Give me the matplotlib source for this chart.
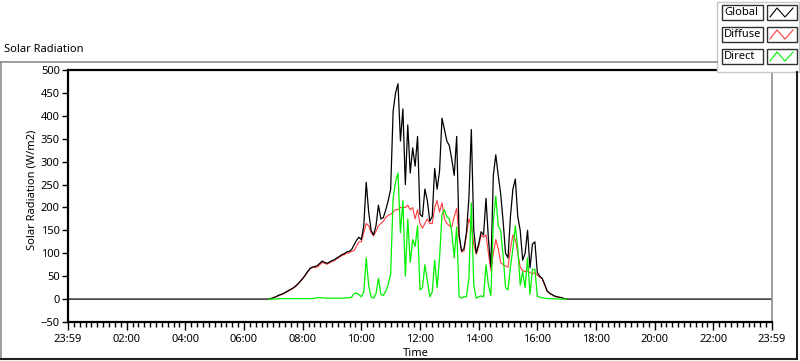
#!/usr/bin/env python3
"""
Solar radiation over one day: global, diffuse and direct.
"""
import numpy as np
import matplotlib.pyplot as plt
from matplotlib.lines import Line2D
from matplotlib.patches import Rectangle

plt.rcParams['font.family'] = ['Noto Sans', 'DejaVu Sans']

# readings every 5 minutes, starting at 06:50
start_hour = 6 + 50 / 60
step_min = 5

global_rad = [
    0, 1, 3, 5, 8, 10, 12, 15, 18, 21, 24, 28,            # 06:50 - 07:45
    33, 39, 45, 52, 60, 67, 70, 71, 73, 78, 83, 80,       # 07:50 - 08:45
    78, 81, 84, 86, 90, 93, 97, 99, 103, 104, 108, 118,   # 08:50 - 09:45
    128, 135, 130, 160, 255, 190, 150, 140, 160, 205, 175, 178,   # 09:50 - 10:45
    195, 215, 240, 410, 450, 470, 345, 415, 250, 380, 275, 330,   # 10:50 - 11:45
    290, 355, 185, 180, 240, 215, 170, 180, 285, 240, 280, 395,   # 11:50 - 12:45
    370, 345, 335, 305, 270, 355, 140, 105, 110, 145, 220, 370,   # 12:50 - 13:45
    150, 100, 120, 147, 140, 220, 130, 70, 270, 315, 270, 230,    # 13:50 - 14:45
    170, 100, 90, 180, 240, 262, 180, 150, 85, 100, 150, 68,      # 14:50 - 15:45
    120, 125, 58, 50, 45, 32, 18, 13, 10, 7, 5, 4,                # 15:50 - 16:45
    3, 1, 0,                                                      # 16:50 - 17:00
]
diffuse_rad = [
    0, 1, 3, 5, 7, 9, 11, 14, 17, 20, 23, 27,
    32, 38, 44, 51, 59, 66, 69, 69, 70, 75, 80, 78,
    76, 79, 82, 84, 88, 91, 95, 97, 100, 101, 104, 106,
    115, 125, 125, 145, 165, 160, 145, 138, 148, 160, 165, 170,
    178, 183, 185, 190, 195, 195, 200, 200, 200, 205, 195, 200,
    175, 195, 165, 155, 165, 175, 165, 165, 200, 215, 190, 210,
    175, 165, 160, 158, 180, 198, 135, 103, 105, 140, 175, 160,
    120, 98, 115, 140, 135, 140, 100, 62, 100, 130, 110, 80,
    75, 72, 70, 110, 140, 130, 100, 70, 62, 60, 62, 58,
    55, 58, 52, 48, 44, 31, 17, 12, 9, 6, 5, 4,
    3, 1, 0,
]
direct_rad = [
    0, 0, 0, 0, 1, 1, 1, 1, 1, 1, 1, 1,
    1, 1, 1, 1, 1, 1, 1, 2, 3, 3, 3, 2,
    2, 2, 2, 2, 2, 2, 2, 2, 3, 3, 4, 12,
    13, 10, 5, 15, 90, 30, 5, 2, 12, 45, 10, 8,
    17, 32, 55, 220, 255, 275, 145, 215, 50, 175, 80, 130,
    115, 160, 20, 25, 75, 40, 5, 15, 85, 25, 90, 185,
    195, 180, 175, 147, 90, 157, 5, 2, 5, 5, 45, 210,
    30, 2, 5, 7, 5, 75, 30, 8, 170, 225, 160, 150,
    95, 25, 20, 70, 110, 160, 110, 30, 60, 25, 90, 10,
    65, 65, 6, 4, 3, 2, 1, 1, 1, 1, 0, 0,
    0, 0, 0,
]

series_names = ['Global', 'Diffuse', 'Direct']
series_colors = ['black', '#ff3b3b', '#00f000']
tick_labels = ['23:59', '02:00', '04:00', '06:00', '08:00', '10:00', '12:00',
               '14:00', '16:00', '18:00', '20:00', '22:00', '23:59']

W, H = 800, 361


def fx(x):
    return x / W


def fy(y):
    return 1 - y / H


fig = plt.figure(figsize=(W / 100, H / 100), dpi=100)

# outer frame of the graph control
fig.add_artist(Line2D([fx(1), fx(1)], [fy(62), fy(359)], color='#8c8c8c', lw=1.2))
fig.add_artist(Line2D([fx(1), fx(717)], [fy(62), fy(62)], color='#8c8c8c', lw=1.2))
fig.add_artist(Line2D([fx(1), fx(797)], [fy(359), fy(359)], color='#202020', lw=1.5))
fig.add_artist(Line2D([fx(797), fx(797)], [fy(72), fy(359)], color='#202020', lw=1.5))
fig.text(fx(4), fy(50), 'Solar Radiation', fontsize=8, va='center', ha='left')

ax = fig.add_axes([fx(68), fy(322), fx(772) - fx(68), fy(70) - fy(322)])

hours = start_hour + np.arange(len(global_rad)) * step_min / 60
day_hours = np.concatenate([[0], hours, [24]])
day_global = np.concatenate([[0], global_rad, [0]])

ax.plot(hours, diffuse_rad, color=series_colors[1], lw=0.8)
ax.plot(day_hours, day_global, color=series_colors[0], lw=0.9)
ax.plot(hours, direct_rad, color=series_colors[2], lw=0.9)

ax.set_xlim(0, 24)
ax.set_ylim(-50, 500)
ax.set_yticks(np.arange(-50, 501, 50))
ax.set_xticks(np.arange(0, 25, 2))
ax.set_xticklabels(tick_labels)
ax.set_xticks(np.arange(0, 24.01, 0.2), minor=True)
ax.tick_params(axis='both', labelsize=8, direction='out', width=1, color='black')
ax.tick_params(axis='x', which='major', length=6, pad=3)
ax.tick_params(axis='x', which='minor', length=3.5, width=1)
ax.tick_params(axis='y', length=4, pad=2)

for side in ['left', 'top', 'bottom']:
    ax.spines[side].set_linewidth(1.6)
    ax.spines[side].set_color('black')
ax.spines['right'].set_color('#8c8c8c')
ax.spines['right'].set_linewidth(1.2)

fig.text(fx(32), fy(190), 'Solar Radiation (W/m2)', fontsize=8, rotation=90,
         ha='center', va='center')
fig.text(fx(416), fy(354), 'Time', fontsize=8, ha='center', va='center')

# plot legend at the top right
fig.add_artist(Rectangle((fx(717), fy(72)), fx(82), fy(0) - fy(70),
                         facecolor='white', edgecolor='#c8c8c8', lw=1))
for i, name in enumerate(series_names):
    top = 5 + i * 22
    fig.add_artist(Rectangle((fx(722), fy(top + 15)), fx(41), fy(0) - fy(15),
                             facecolor='white', edgecolor='#303030', lw=1))
    fig.text(fx(724), fy(top + 7.5), name, fontsize=8, va='center', ha='left')
    fig.add_artist(Rectangle((fx(767), fy(top + 15)), fx(30), fy(0) - fy(15),
                             facecolor='white', edgecolor='#303030', lw=1))
    fig.add_artist(Line2D([fx(770), fx(777), fx(785), fx(793)],
                          [fy(top + 12), fy(top + 3), fy(top + 12), fy(top + 3)],
                          color=series_colors[i], lw=0.8))

fig.savefig('out.png', dpi=100)
